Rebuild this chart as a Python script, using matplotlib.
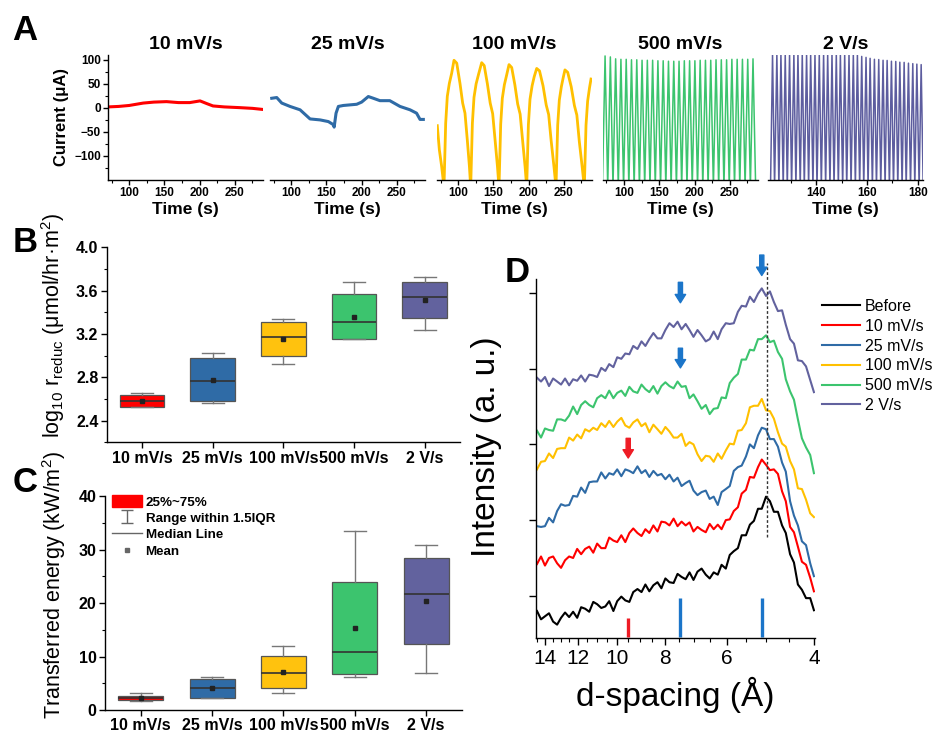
import matplotlib
matplotlib.use('Agg')
import matplotlib.pyplot as plt
from matplotlib.ticker import MultipleLocator, FixedLocator, FixedFormatter, NullFormatter, FormatStrFormatter
from matplotlib.patches import Patch
from matplotlib.lines import Line2D

plt.rcParams['font.family'] = ['Liberation Sans', 'DejaVu Sans']
plt.rcParams['axes.linewidth'] = 1.0
plt.rcParams['mathtext.fontset'] = 'custom'
plt.rcParams['mathtext.rm'] = 'Liberation Sans'
plt.rcParams['mathtext.it'] = 'Liberation Sans:italic'
plt.rcParams['mathtext.bf'] = 'Liberation Sans:bold'

# --- data ---

rates = ['10 mV/s', '25 mV/s', '100 mV/s', '500 mV/s', '2 V/s']
rate_colors = ['#ff0000', '#2f6ba6', '#ffc20e', '#3cc46e', '#62629e']

# A: current vs time at each scan rate
t_10 = [70, 85, 100, 120, 135, 153, 170, 186, 200.6, 210, 219, 235, 257, 275, 288]
i_10 = [2, 3, 5, 10, 12, 13, 11, 11, 14.5, 9, 4, 2, 0.5, -1, -3]

t_25 = [72.4, 79.5, 86.6, 98.4, 112.6, 126.8, 141, 152.8, 159.9, 161.0, 163.7, 167,
        174, 193, 200, 209.5, 216.6, 226, 240, 254.5, 268.7, 278, 282.9, 287.6]
i_25 = [20, 21.5, 10, 3, -4, -23, -25, -28.5, -35, -40, -11, 3,
        5, 7.5, 12, 23.6, 20, 15, 15, 3, -4, -11, -24, -24]

t_100 = [70.4, 73.3, 76.6, 79.9,
         82.3, 84.6, 87.5, 90.8, 94.1, 98.0, 102.6, 106.4, 109.7, 113.0, 116.0, 117.8,
         120.2, 122.5, 125.5, 129.0, 133.4, 137.0, 141.5, 145.5, 149.0, 152.5, 155.8, 158.0,
         160.4, 162.7, 165.6, 168.8, 172.2, 176.0, 180.5, 184.5, 188.0, 191.5, 195.0, 197.3,
         199.7, 202.0, 205.0, 208.0, 211.5, 215.5, 220.5, 225.0, 228.5, 232.0, 236.0, 238.9,
         241.3, 243.6, 246.5, 249.0, 251.6, 255.5, 260.5, 265.0, 268.5, 272.0, 276.0, 279.1,
         281.5, 283.8, 286.5, 288.6]
i_100 = [-37, -87, -122, -165,
         -32, 24, 51, 72, 99, 93, 51, 10, -11, -67, -122, -165,
         -32, 22, 50, 70, 94, 88, 50, 10, -12, -68, -122, -165,
         -34, 20, 48, 68, 90, 84, 48, 8, -13, -68, -122, -165,
         -35, 18, 46, 65, 82, 77, 46, 6, -14, -68, -122, -165,
         -36, 16, 44, 62, 79, 74, 44, 5, -15, -70, -122, -165,
         -36, 14, 42, 60]

t500_trough = [69.25, 76.75, 84.25, 91.75, 99.25, 106.75, 114.25, 121.75, 129.25, 136.75,
               144.25, 151.75, 159.25, 166.75, 174.25, 181.75, 189.25, 196.75, 204.25, 211.75,
               219.25, 226.75, 234.25, 241.75, 249.25, 256.75, 264.25, 271.75, 279.25, 286.75]
t500_peak = [73, 80.5, 88, 95.5, 103, 110.5, 118, 125.5, 133, 140.5,
             148, 155.5, 163, 170.5, 178, 185.5, 193, 200.5, 208, 215.5,
             223, 230.5, 238, 245.5, 253, 260.5, 268, 275.5, 283]
i500_peak = [108, 106, 102, 101, 101, 100, 100, 99, 99, 99,
             98, 98, 97, 97, 97, 98, 98, 98, 99, 99,
             99, 100, 100, 100, 101, 101, 101, 101, 102]
i500_trough = -165

t2v_trough = [122.0, 123.6, 125.3, 127.0, 128.6, 130.3, 132.0, 133.7, 135.3, 137.0,
              138.7, 140.3, 142.0, 143.7, 145.4, 147.0, 148.7, 150.4, 152.0, 153.7,
              155.4, 157.1, 158.7, 160.4, 162.1, 163.7, 165.4, 167.1, 168.8, 170.4,
              172.1, 173.8, 175.4, 177.1, 178.8, 180.5, 182.1]
t2v_peak = [122.8, 124.5, 126.1, 127.8, 129.5, 131.2, 132.8, 134.5, 136.2, 137.8,
            139.5, 141.2, 142.9, 144.5, 146.2, 147.9, 149.5, 151.2, 152.9, 154.6,
            156.2, 157.9, 159.6, 161.2, 162.9, 164.6, 166.3, 167.9, 169.6, 171.3,
            172.9, 174.6, 176.3, 178.0, 179.6, 181.3]
i2v_peak = [112, 112, 112, 112, 112, 112, 112, 112, 112, 112,
            112, 112, 112, 112, 112, 112, 112, 112, 112, 112,
            112, 107, 105, 103, 101, 100.5, 99, 98.6, 97, 96.5,
            95, 94.6, 93, 92, 91, 90]
i2v_trough = -165

# B: log10 reduction rate box statistics
b_q1 = [2.527, 2.584, 2.993, 3.153, 3.346]
b_q3 = [2.640, 2.978, 3.306, 3.567, 3.683]
b_med = [2.585, 2.769, 3.168, 3.306, 3.545]
b_mean = [2.585, 2.778, 3.153, 3.361, 3.515]
b_lo = [2.527, 2.563, 2.923, 3.153, 3.238]
b_hi = [2.658, 3.022, 3.340, 3.683, 3.729]

# C: transferred energy box statistics
c_q1 = [1.9, 2.3, 4.2, 6.7, 12.3]
c_q3 = [2.7, 5.8, 10.1, 23.9, 28.4]
c_med = [2.3, 4.05, 7.0, 10.8, 21.6]
c_mean = [2.3, 4.2, 7.2, 15.3, 20.3]
c_lo = [1.75, 2.2, 3.1, 6.1, 7.0]
c_hi = [3.1, 6.2, 12.0, 33.5, 30.9]

# D: XRD patterns (offset), sampled on a common d-spacing grid
d_grid = [14.53, 14.26, 14.00, 13.74, 13.48, 13.23, 12.99, 12.75, 12.51, 12.28,
          12.05, 11.83, 11.61, 11.39, 11.18, 10.98, 10.77, 10.57, 10.38, 10.18,
          10.00, 9.81, 9.63, 9.45, 9.28, 9.10, 8.93, 8.77, 8.61, 8.45,
          8.29, 8.14, 7.99, 7.84, 7.69, 7.55, 7.41, 7.27, 7.14, 7.01,
          6.88, 6.75, 6.62, 6.50, 6.38, 6.26, 6.15, 6.03, 5.92, 5.81,
          5.70, 5.60, 5.49, 5.39, 5.29, 5.19, 5.10, 5.00, 4.91, 4.82,
          4.73, 4.64, 4.56, 4.47, 4.39, 4.31, 4.23, 4.15, 4.07, 4.00]
xrd_before = [-0.20, -0.31, -0.27, -0.23, -0.34, -0.38, -0.29, -0.22, -0.28, -0.21,
              -0.29, -0.15, -0.17, -0.21, -0.08, -0.11, -0.16, -0.14, -0.07, -0.20,
              -0.07, -0.01, -0.06, -0.08, 0.05, 0.09, 0.05, 0.15, 0.06, 0.14,
              0.18, 0.10, 0.23, 0.18, 0.17, 0.29, 0.25, 0.22, 0.31, 0.21,
              0.32, 0.36, 0.28, 0.23, 0.31, 0.28, 0.41, 0.36, 0.54, 0.59,
              0.63, 0.80, 0.80, 0.94, 0.99, 1.15, 1.15, 1.31, 1.25, 1.11,
              1.11, 0.93, 0.83, 0.55, 0.44, 0.15, 0.08, -0.03, -0.03, -0.19]
xrd_10 = [0.42, 0.52, 0.40, 0.50, 0.52, 0.43, 0.37, 0.47, 0.52, 0.50,
          0.62, 0.55, 0.62, 0.65, 0.57, 0.69, 0.63, 0.63, 0.77, 0.73,
          0.71, 0.80, 0.71, 0.83, 0.89, 0.83, 0.79, 0.88, 0.83, 0.93,
          0.85, 0.98, 0.97, 0.93, 1.02, 0.92, 0.98, 0.93, 0.97, 0.85,
          0.91, 0.87, 0.84, 0.95, 0.88, 0.94, 0.88, 1.00, 1.01, 1.12,
          1.17, 1.35, 1.40, 1.57, 1.56, 1.70, 1.80, 1.73, 1.66, 1.67,
          1.61, 1.38, 1.25, 0.91, 0.84, 0.65, 0.45, 0.41, 0.24, 0.06]
xrd_25 = [0.92, 0.91, 0.92, 1.03, 0.97, 1.12, 1.21, 1.19, 1.20, 1.32,
          1.31, 1.43, 1.36, 1.50, 1.51, 1.51, 1.63, 1.55, 1.62, 1.60,
          1.67, 1.58, 1.67, 1.65, 1.62, 1.71, 1.62, 1.66, 1.57, 1.65,
          1.59, 1.61, 1.54, 1.60, 1.51, 1.56, 1.45, 1.49, 1.52, 1.39,
          1.33, 1.37, 1.39, 1.28, 1.31, 1.20, 1.37, 1.41, 1.45, 1.65,
          1.70, 1.72, 1.84, 2.00, 1.95, 2.12, 2.22, 2.20, 2.07, 2.07,
          1.97, 1.76, 1.64, 1.25, 1.06, 0.93, 0.72, 0.67, 0.43, 0.26]
xrd_100 = [1.67, 1.77, 1.78, 1.88, 1.82, 1.94, 1.95, 1.95, 2.09, 2.05,
           2.13, 2.08, 2.20, 2.17, 2.22, 2.19, 2.28, 2.23, 2.31, 2.23,
           2.30, 2.35, 2.25, 2.22, 2.29, 2.33, 2.24, 2.28, 2.16, 2.26,
           2.20, 2.14, 2.23, 2.17, 2.09, 2.09, 2.14, 1.98, 2.03, 2.00,
           1.87, 1.78, 1.85, 1.84, 1.77, 1.88, 1.81, 1.92, 2.01, 2.00,
           2.18, 2.19, 2.28, 2.49, 2.51, 2.51, 2.60, 2.45, 2.44, 2.34,
           2.16, 2.01, 1.97, 1.78, 1.67, 1.42, 1.41, 1.27, 1.09, 1.04]
xrd_500 = [2.18, 2.09, 2.21, 2.19, 2.18, 2.33, 2.33, 2.31, 2.38, 2.50,
           2.40, 2.52, 2.57, 2.52, 2.49, 2.61, 2.65, 2.61, 2.71, 2.61,
           2.68, 2.71, 2.64, 2.76, 2.70, 2.68, 2.79, 2.73, 2.69, 2.77,
           2.67, 2.77, 2.82, 2.77, 2.74, 2.83, 2.76, 2.77, 2.61, 2.66,
           2.57, 2.47, 2.52, 2.40, 2.47, 2.48, 2.62, 2.61, 2.81, 2.88,
           2.93, 3.12, 3.12, 3.25, 3.24, 3.39, 3.39, 3.44, 3.35, 3.37,
           3.22, 3.13, 2.86, 2.70, 2.59, 2.33, 2.08, 1.96, 1.86, 1.62]
xrd_2v = [2.88, 2.83, 2.89, 2.77, 2.87, 2.83, 2.79, 2.87, 2.78, 2.86,
          2.84, 2.91, 2.83, 2.92, 2.91, 2.89, 3.01, 2.97, 3.06, 3.02,
          3.15, 3.13, 3.20, 3.19, 3.30, 3.26, 3.36, 3.30, 3.39, 3.47,
          3.40, 3.40, 3.51, 3.60, 3.55, 3.62, 3.52, 3.59, 3.51, 3.42,
          3.51, 3.44, 3.36, 3.39, 3.49, 3.39, 3.52, 3.60, 3.59, 3.60,
          3.75, 3.83, 3.82, 3.95, 3.88, 3.99, 4.06, 3.96, 4.02, 3.88,
          3.76, 3.77, 3.58, 3.39, 3.33, 3.11, 3.10, 3.03, 2.85, 2.69]
xrd_labels = ['Before'] + rates
xrd_colors = ['#000000', '#ff0000', '#2f6ba6', '#ffc000', '#3cc46e', '#62629e']

# reference reflections and peak markers
ref_d = [9.5, 7.45, 5.1]
ref_lo = [-0.54, -0.54, -0.54]
ref_hi = [-0.29, -0.03, -0.03]
ref_colors = ['#ee1c25', '#1b75c9', '#1b75c9']
arrow_d = [9.5, 7.45, 7.45, 5.1]
arrow_from = [2.08, 3.27, 4.14, 4.50]
arrow_to = [1.82, 3.01, 3.87, 4.23]
arrow_colors = ['#ee1c25', '#1b75c9', '#1b75c9', '#1b75c9']
peak_line_d = 4.97


def bold_ticks(ax):
    for lab in ax.get_xticklabels() + ax.get_yticklabels():
        lab.set_fontweight('bold')


# --- figure ---
fig = plt.figure(figsize=(9.37, 7.42), dpi=100)

# panel A
a_left = [0.1153, 0.2882, 0.4664, 0.6435, 0.8196]
ax_a = [fig.add_axes([l, 0.7574, 0.1654, 0.1685]) for l in a_left]

ax_a[0].plot(t_10, i_10, color=rate_colors[0], lw=2.2)
ax_a[1].plot(t_25, i_25, color=rate_colors[1], lw=2.2)
ax_a[2].plot(t_100, i_100, color='#ffc000', lw=2.0)

t500, i500 = [], []
for k in range(len(t500_peak)):
    t500 += [t500_trough[k], t500_peak[k]]
    i500 += [i500_trough, i500_peak[k]]
t500.append(t500_trough[-1])
i500.append(i500_trough)
ax_a[3].plot(t500, i500, color=rate_colors[3], lw=1.1)

t2v, i2v = [], []
for k in range(len(t2v_peak)):
    t2v += [t2v_trough[k], t2v_peak[k]]
    i2v += [i2v_trough, i2v_peak[k]]
t2v.append(t2v_trough[-1])
i2v.append(i2v_trough)
ax_a[4].plot(t2v, i2v, color='#5d5d9f', lw=1.1)

for k, ax in enumerate(ax_a):
    ax.spines['top'].set_visible(False)
    ax.spines['right'].set_visible(False)
    ax.set_ylim(-150, 110)
    if k < 4:
        ax.set_xlim(70, 290)
        ax.xaxis.set_major_locator(MultipleLocator(50))
        ax.xaxis.set_minor_locator(MultipleLocator(25))
    else:
        ax.set_xlim(121, 182)
        ax.xaxis.set_major_locator(MultipleLocator(20))
        ax.xaxis.set_minor_locator(MultipleLocator(10))
    if k == 0:
        ax.yaxis.set_major_locator(FixedLocator([-100, -50, 0, 50, 100]))
        ax.yaxis.set_minor_locator(FixedLocator([-125, -75, -25, 25, 75]))
        ax.set_ylabel('Current (μA)', fontsize=12, fontweight='bold', labelpad=4)
    else:
        ax.spines['left'].set_visible(False)
        ax.set_yticks([])
    ax.tick_params(which='major', direction='out', length=3.5, width=1, labelsize=8.5, pad=1.5)
    ax.tick_params(which='minor', direction='out', length=2, width=0.8)
    ax.set_title(rates[k], fontsize=14, fontweight='bold', pad=4)
    ax.set_xlabel('Time (s)', fontsize=12.5, fontweight='bold', labelpad=2)
    bold_ticks(ax)

# panels B and C: box charts from summary statistics
positions = [1, 2, 3, 4, 5]


def box_panel(ax, q1, q3, med, mean, lo, hi):
    stats = []
    for k in range(len(rates)):
        stats.append(dict(q1=q1[k], q3=q3[k], med=med[k], mean=mean[k],
                          whislo=lo[k], whishi=hi[k], label=rates[k]))
    bp = ax.bxp(stats, positions=positions, widths=0.63, capwidths=0.31,
                showmeans=True, showfliers=False, patch_artist=True,
                boxprops=dict(edgecolor='#555555', linewidth=0.9),
                whiskerprops=dict(color='#777777', linewidth=1.0),
                capprops=dict(color='#777777', linewidth=1.0),
                medianprops=dict(color='#333333', linewidth=1.2),
                meanprops=dict(marker='s', markersize=2.5, markerfacecolor='#222222',
                               markeredgecolor='#222222'))
    for patch, c in zip(bp['boxes'], rate_colors):
        patch.set_facecolor(c)
    ax.set_xlim(0.5, 5.5)
    ax.spines['top'].set_visible(False)
    ax.spines['right'].set_visible(False)
    ax.tick_params(which='major', direction='out', length=4, width=1, labelsize=11.5, pad=2)
    ax.tick_params(which='minor', direction='out', length=2.5, width=0.8)


ax_b = fig.add_axes([0.1139, 0.4039, 0.3771, 0.2628])
box_panel(ax_b, b_q1, b_q3, b_med, b_mean, b_lo, b_hi)
ax_b.set_ylim(2.2, 4.0)
ax_b.yaxis.set_major_locator(MultipleLocator(0.4))
ax_b.yaxis.set_minor_locator(MultipleLocator(0.2))
ax_b.yaxis.set_major_formatter(FormatStrFormatter('%.1f'))
ax_b.set_ylabel(r'log$_{\mathrm{10}}$ r$_{\mathrm{reduc}}$ (μmol/hr·m$^{\mathrm{2}}$)',
                fontsize=15.5)
ax_b.yaxis.set_label_coords(-0.112, 0.6)
bold_ticks(ax_b)

ax_c = fig.add_axes([0.1121, 0.0431, 0.3807, 0.2884])
box_panel(ax_c, c_q1, c_q3, c_med, c_mean, c_lo, c_hi)
ax_c.set_ylim(0, 40)
ax_c.yaxis.set_major_locator(MultipleLocator(10))
ax_c.yaxis.set_minor_locator(MultipleLocator(5))
ax_c.set_ylabel(r'Transferred energy (kW/m$^{\mathrm{2}}$)', fontsize=15.5)
ax_c.yaxis.set_label_coords(-0.104, 0.584)
bold_ticks(ax_c)

eb = ax_c.errorbar([float('nan')], [float('nan')], yerr=[[1], [1]], fmt='none',
                   ecolor='#666666', elinewidth=1, capsize=4, capthick=1)
c_handles = [Patch(facecolor=rate_colors[0], edgecolor=rate_colors[0]),
             eb,
             Line2D([], [], color='#666666', lw=1),
             Line2D([], [], ls='none', marker='s', markersize=2.5, color='#666666')]
c_labels = ['25%~75%', 'Range within 1.5IQR', 'Median Line', 'Mean']
ax_c.legend(c_handles, c_labels, loc='upper left', bbox_to_anchor=(0.02, 1.005),
            frameon=False, handlelength=2.2, handleheight=1.05,
            labelspacing=0.2, handletextpad=0.3, borderaxespad=0, borderpad=0,
            prop=dict(weight='bold', size=9.6))

# panel D: XRD
ax_d = fig.add_axes([0.5720, 0.1398, 0.2978, 0.4838])
xrd_series = [xrd_before, xrd_10, xrd_25, xrd_100, xrd_500, xrd_2v]
lines = []
for y, c, lab in zip(xrd_series, xrd_colors, xrd_labels):
    ln, = ax_d.plot(d_grid, y, color=c, lw=1.5, label=lab)
    lines.append(ln)

for d, lo, hi, c in zip(ref_d, ref_lo, ref_hi, ref_colors):
    ax_d.plot([d, d], [lo, hi], color=c, lw=2.4, solid_capstyle='butt')

for d, y0, y1, c in zip(arrow_d, arrow_from, arrow_to, arrow_colors):
    ax_d.annotate('', xy=(d, y1), xytext=(d, y0), annotation_clip=False,
                  arrowprops=dict(arrowstyle='simple,head_length=0.6,head_width=0.75,tail_width=0.3',
                                  color=c, mutation_scale=10, shrinkA=0, shrinkB=0))

ax_d.plot([peak_line_d, peak_line_d], [0.78, 4.39], color='#333333', lw=1,
          ls=(0, (2, 1.5)), clip_on=False)

ax_d.set_xscale('log')
ax_d.set_xlim(14.6, 3.98)
ax_d.set_ylim(-0.56, 4.18)
ax_d.xaxis.set_major_locator(FixedLocator([14, 12, 10, 8, 6, 4]))
ax_d.xaxis.set_major_formatter(FixedFormatter(['14', '12', '10', '8', '6', '4']))
ax_d.xaxis.set_minor_locator(FixedLocator([4.5, 5, 5.5, 6.5, 7, 7.5, 8.5, 9, 9.5, 10.5, 11,
                                            11.5, 12.5, 13, 13.5, 14.5]))
ax_d.xaxis.set_minor_formatter(NullFormatter())
ax_d.set_yticks([0, 1, 2, 3, 4])
ax_d.set_yticklabels([])
ax_d.spines['top'].set_visible(False)
ax_d.spines['right'].set_visible(False)
ax_d.tick_params(which='major', direction='out', length=5, width=1, labelsize=15, pad=3)
ax_d.tick_params(which='minor', direction='out', length=3, width=0.8)
ax_d.set_xlabel('d-spacing (Å)', fontsize=24, labelpad=6)
ax_d.set_ylabel('Intensity (a. u.)', fontsize=24)
ax_d.yaxis.set_label_coords(-0.12, 0.533)
ax_d.legend(lines, xrd_labels, loc='upper left', bbox_to_anchor=(1.025, 0.945),
            frameon=False, handlelength=2.4, handletextpad=0.3, labelspacing=0.3,
            borderaxespad=0, borderpad=0, prop=dict(size=11.5))

# panel letters
for letter, (px, py) in zip('ABCD', [(25, 30), (25, 242), (25, 483), (517, 273)]):
    fig.text(px / 937, 1 - py / 742, letter, fontsize=25, fontweight='bold',
             ha='center', va='center')

fig.savefig('out.png', dpi=100)
